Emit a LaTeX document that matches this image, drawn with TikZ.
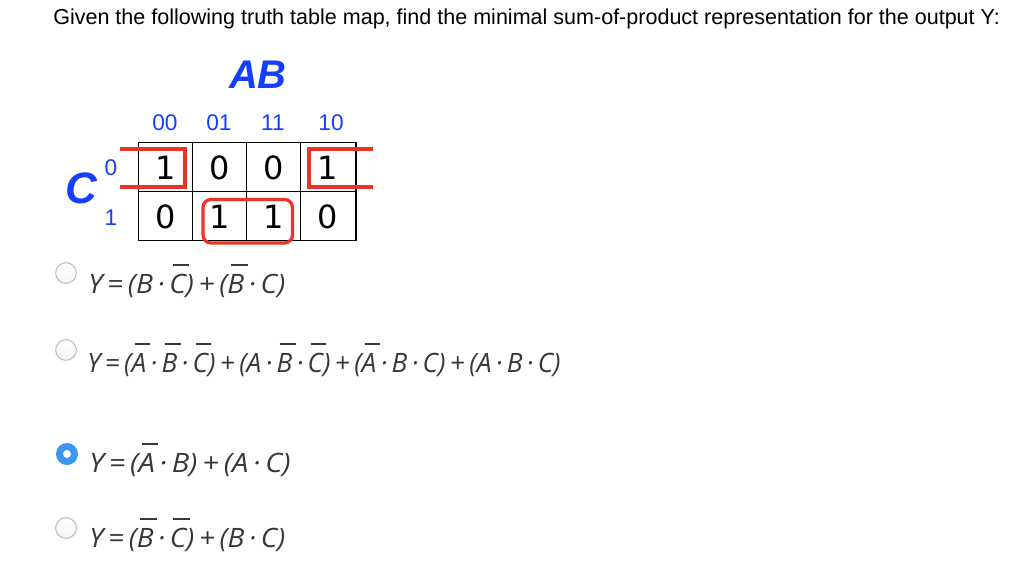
\documentclass[tikz,border=0pt]{standalone}
\usepackage{fontspec}
\usepackage{graphicx}
\setmainfont{Liberation Sans}
\newfontfamily\eqfont{Open Sans}
\newfontfamily\kfont{DejaVu Sans}
\definecolor{kblue}{RGB}{22,62,255}
\definecolor{kred}{RGB}{236,52,38}
\definecolor{eqgray}{RGB}{55,55,55}
\definecolor{radiogray}{RGB}{190,190,190}
\definecolor{radioblue}{RGB}{60,150,240}
\newcommand\myov[1]{\setbox0=\hbox{#1}\rlap{\kern0.12em\raisebox{1.0em}{\rule{1.0\wd0}{1.6pt}}}\box0}
\tikzset{
  grid/.style={draw=black, line width=1.4pt},
  loop/.style={draw=kred, line width=2.4pt},
  cell/.style={font=\kfont\fontsize{24}{26}\selectfont, text=black, inner sep=0pt},
  head/.style={font=\fontsize{17}{20}\selectfont, text=kblue, inner sep=0pt},
  big/.style={font=\fontsize{30}{32}\selectfont\bfseries\itshape, text=kblue, inner sep=0pt},
  radio/.style={circle, draw=radiogray, line width=0.8pt, minimum size=15.5pt, inner sep=0pt, top color=white, bottom color=black!4},
  radiosel/.style={circle, fill=radioblue, minimum size=16.5pt, inner sep=0pt},
  eq/.style={anchor=base west, inner sep=0pt, text=eqgray, font=\eqfont\itshape\fontsize{20}{24}\selectfont},
}
\begin{document}
\begin{tikzpicture}[x=0.75pt, y=-0.75pt]
\fill[white] (0,0) rectangle (1024,576);
\useasboundingbox (0,0) rectangle (1024,576);
% title
\node[anchor=base west, inner sep=0pt, font=\fontsize{16.2}{19}\selectfont] (title) at (53,24)
  {\resizebox{710pt}{\height}{Given the following truth table map, find the minimal sum-of-product representation for the output Y:}};
% K-map labels
\node[big] (ab) at (258,75) {AB};
\node[big, font=\fontsize{33}{36}\selectfont\bfseries\itshape] (c) at (81,188) {C};
\node[head] (h00) at (165,123) {00};
\node[head] (h01) at (219,123) {01};
\node[head] (h11) at (273,123) {11};
\node[head] (h10) at (331,123) {10};
\node[head] (r0) at (111,168) {0};
\node[head] (r1) at (111,218) {1};
% grid
\draw[grid] (138.5,142.5) rectangle (356,240.5);
\draw[grid] (138.5,191.5) -- (356,191.5);
\draw[grid] (192.5,142.5) -- (192.5,240.5);
\draw[grid] (246.5,142.5) -- (246.5,240.5);
\draw[grid] (300.5,142.5) -- (300.5,240.5);
% cells
\node[cell] (c00) at (166,168) {1};
\node[cell] (c01) at (220,168) {0};
\node[cell] (c11) at (274,168) {0};
\node[cell] (c10) at (328,168) {1};
\node[cell] (d00) at (166,217) {0};
\node[cell] (d01) at (220,217) {1};
\node[cell] (d11) at (274,217) {1};
\node[cell] (d10) at (328,217) {0};
% red loops
\draw[loop] (120,149) -- (185,149) -- (185,187) -- (120,187);
\draw[loop] (373,149) -- (309,149) -- (309,187) -- (373,187);
\draw[loop, rounded corners=6pt] (203,199.5) rectangle (292.5,243);
% options
\node[radio] (o1) at (66,273) {};
\node[eq] (e1) at (88,293)
  {\resizebox{147.75pt}{\height}{Y\,=\,(B\,·\,\myov{C})\,+\,(\myov{B}\,·\,C)}};
\node[radio] (o2) at (66,350) {};
\node[eq] (e2) at (87,372)
  {\resizebox{355pt}{\height}{Y\,=\,(\myov{A}\,·\,\myov{B}\,·\,\myov{C})\,+\,(A\,·\,\myov{B}\,·\,\myov{C})\,+\,(\myov{A}\,·\,B\,·\,C)\,+\,(A\,·\,B\,·\,C)}};
\node[radiosel] (o3) at (67,454) {};
\fill[white] (o3.center) circle (3pt);
\node[eq] (e3) at (89,472)
  {\resizebox{151pt}{\height}{Y\,=\,(\myov{A}\,·\,B)\,+\,(A\,·\,C)}};
\node[radio] (o4) at (66,528) {};
\node[eq] (e4) at (89,547)
  {\resizebox{147pt}{\height}{Y\,=\,(\myov{B}\,·\,\myov{C})\,+\,(B\,·\,C)}};
\end{tikzpicture}
\end{document}
